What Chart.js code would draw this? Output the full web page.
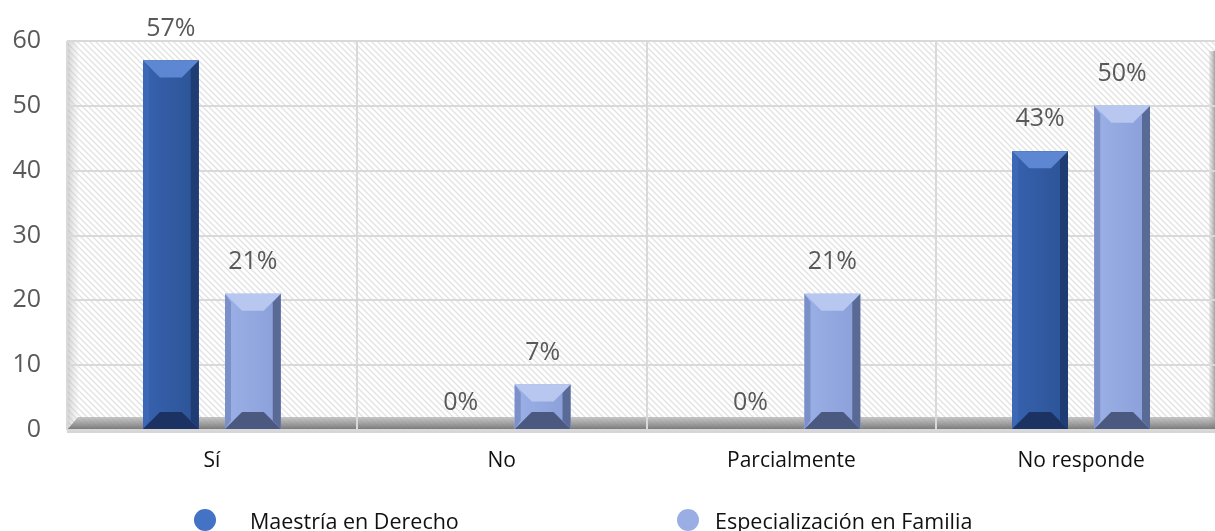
<!DOCTYPE html>
<html>
<head>
<meta charset="utf-8">
<script src="https://cdn.jsdelivr.net/npm/chart.js@4.4.1/dist/chart.umd.min.js"></script>
<style>
  html, body { margin: 0; padding: 0; background: #fff; }
  #wrap { position: relative; width: 1215px; height: 531px; overflow: hidden; }
  #legend { position: absolute; left: 0; top: 505px; width: 1215px; height: 30px;
            font-family: "Open Sans", sans-serif; font-size: 21.5px; color: #111; }
  .item { position: absolute; top: 0; display: flex; align-items: center; height: 30px; }
  .dot { width: 22px; height: 22px; border-radius: 50%; display: inline-block; }
</style>
</head>
<body>
<div id="wrap">
  <canvas id="chart" width="1226" height="531"></canvas>
  <div id="legend"></div>
</div>
<script>
// categories and series
const categories = ['Sí', 'No', 'Parcialmente', 'No responde'];
const maestria = [57, 0, 0, 43];          // Maestría en Derecho
const especializacion = [21, 7, 21, 50];  // Especialización en Familia
const seriesNames = ['Maestría en Derecho', 'Especialización en Familia'];

// bevel colours for each series: top, left, centre (2 stops), right, bottom
const shades = [
    { top: '#5d87d2', left: '#3d68b6', c1: '#3762ae', c2: '#2c5396', right: '#203d73', bottom: '#1b3262', dot: '#4472c4' },
    { top: '#b7c7f0', left: '#7b90c9', c1: '#9bb0e6', c2: '#8a9fd8', right: '#5a6a96', bottom: '#4b5980', dot: '#9aaee3' }
];

// diagonal hatch for the plot background
function hatch(color) {
    const c = document.createElement('canvas');
    c.width = 6; c.height = 6;
    const g = c.getContext('2d');
    g.fillStyle = '#fff';
    g.fillRect(0, 0, 6, 6);
    g.strokeStyle = color;
    g.lineWidth = 1.3;
    g.beginPath();
    g.moveTo(-1, -1); g.lineTo(7, 7);
    g.moveTo(-1, 5); g.lineTo(1, 7);
    g.moveTo(5, -1); g.lineTo(7, 1);
    g.stroke();
    return c;
}

const backdrop = {
    id: 'backdrop',
    beforeDraw(chart) {
        const { ctx, chartArea: a } = chart;
        ctx.save();
        ctx.fillStyle = ctx.createPattern(hatch('#e2e2e2'), 'repeat');
        ctx.fillRect(a.left, a.top, a.right - a.left, a.bottom - a.top);
        // left wall
        const w = ctx.createLinearGradient(a.left, 0, a.left + 11, 0);
        w.addColorStop(0, 'rgba(170,170,170,0.55)');
        w.addColorStop(1, 'rgba(220,220,220,0.2)');
        ctx.fillStyle = w;
        ctx.fillRect(a.left, a.top, 11, a.bottom - a.top);
        // right wall edge, at the visible border of the picture
        const edge = chart.width - 17;
        const r = ctx.createLinearGradient(edge, 0, edge + 6, 0);
        r.addColorStop(0, 'rgba(200,200,200,0.3)');
        r.addColorStop(1, 'rgba(140,140,140,0.8)');
        ctx.fillStyle = r;
        ctx.fillRect(edge, a.top + 10, 6, a.bottom - a.top - 10);
        // floor
        const f = ctx.createLinearGradient(0, a.bottom - 13, 0, a.bottom);
        f.addColorStop(0, 'rgba(185,185,185,0.8)');
        f.addColorStop(1, 'rgba(110,110,110,0.95)');
        ctx.fillStyle = f;
        ctx.beginPath();
        ctx.moveTo(a.left + 11, a.bottom - 13);
        ctx.lineTo(a.right, a.bottom - 13);
        ctx.lineTo(a.right, a.bottom);
        ctx.lineTo(a.left, a.bottom);
        ctx.closePath();
        ctx.fill();
        ctx.fillStyle = '#d6d6d6';
        ctx.fillRect(a.left, a.bottom, a.right - a.left, 3);
        ctx.restore();
    }
};

function poly(ctx, pts, color) {
    ctx.fillStyle = color;
    ctx.beginPath();
    ctx.moveTo(pts[0][0], pts[0][1]);
    for (let i = 1; i < pts.length; i++) ctx.lineTo(pts[i][0], pts[i][1]);
    ctx.closePath();
    ctx.fill();
}

// bevelled look on top of the library's bars
const bevel = {
    id: 'bevel',
    afterDatasetsDraw(chart) {
        const ctx = chart.ctx;
        chart.data.datasets.forEach((ds, di) => {
            const s = shades[di];
            chart.getDatasetMeta(di).data.forEach(bar => {
                const p = bar.getProps(['x', 'y', 'base', 'width'], true);
                const L = p.x - p.width / 2, R = p.x + p.width / 2;
                const T = Math.min(p.y, p.base), B = Math.max(p.y, p.base);
                const h = B - T;
                if (h < 1) return;
                const b = Math.min(17, h / 2);
                ctx.save();
                const g = ctx.createLinearGradient(L, 0, R, 0);
                g.addColorStop(0, s.c1);
                g.addColorStop(1, s.c2);
                ctx.fillStyle = g;
                ctx.fillRect(L, T, R - L, h);
                poly(ctx, [[L, T], [L + 6, T + b / 2], [L + 6, B - b / 2], [L, B]], s.left);
                poly(ctx, [[R, T], [R - 8, T + b / 2], [R - 8, B - b / 2], [R, B]], s.right);
                poly(ctx, [[L, T], [R, T], [R - b, T + b], [L + b, T + b]], s.top);
                poly(ctx, [[L, B], [R, B], [R - b, B - b], [L + b, B - b]], s.bottom);
                ctx.restore();
            });
        });
    }
};

// percentage labels above the bars
const valueLabels = {
    id: 'valueLabels',
    afterDatasetsDraw(chart) {
        const ctx = chart.ctx;
        ctx.save();
        ctx.font = '25px "Open Sans", sans-serif';
        ctx.fillStyle = '#595959';
        ctx.textAlign = 'center';
        ctx.textBaseline = 'middle';
        chart.data.datasets.forEach((ds, di) => {
            chart.getDatasetMeta(di).data.forEach((bar, i) => {
                const v = ds.data[i];
                const off = v === 0 ? 27 : 32;
                ctx.fillText(v + '%', bar.x, bar.y - off);
            });
        });
        ctx.restore();
    }
};

const ctx = document.getElementById('chart').getContext('2d');
const chart = new Chart(ctx, {
    type: 'bar',
    data: {
        labels: categories,
        datasets: [{
            label: seriesNames[0],
            data: maestria,
            backgroundColor: shades[0].c1,
            borderWidth: 0
        }, {
            label: seriesNames[1],
            data: especializacion,
            backgroundColor: shades[1].c1,
            borderWidth: 0
        }]
    },
    options: {
        responsive: false,
        animation: false,
        categoryPercentage: 0.566,
        barPercentage: 0.68,
        layout: { padding: { top: 32, right: 0, bottom: 51, left: 0 } },
        plugins: {
            legend: { display: false },
            tooltip: { enabled: false }
        },
        scales: {
            x: {
                grid: { offset: true, color: '#d9d9d9', lineWidth: 2, drawTicks: false },
                border: { display: false },
                ticks: { color: '#111', padding: 18, font: { family: 'Open Sans', size: 21 } },
                afterFit(scale) { scale.height = 50; }
            },
            y: {
                min: 0,
                max: 60,
                ticks: { stepSize: 10, color: '#595959', padding: 26, font: { family: 'Open Sans', size: 25 } },
                grid: { color: '#d9d9d9', lineWidth: 2, drawTicks: false },
                border: { display: false },
                afterFit(scale) { scale.width = 67; }
            }
        }
    },
    plugins: [backdrop, bevel, valueLabels]
});

// legend
const legend = document.getElementById('legend');
const legendPos = [[194, 250], [677, 715]];
seriesNames.forEach((name, i) => {
    const dot = document.createElement('span');
    dot.className = 'item';
    dot.style.left = legendPos[i][0] + 'px';
    dot.innerHTML = '<span class="dot" style="background:' + shades[i].dot + '"></span>';
    legend.appendChild(dot);
    const txt = document.createElement('span');
    txt.className = 'item';
    txt.style.left = legendPos[i][1] + 'px';
    txt.textContent = name;
    legend.appendChild(txt);
});
</script>
</body>
</html>
